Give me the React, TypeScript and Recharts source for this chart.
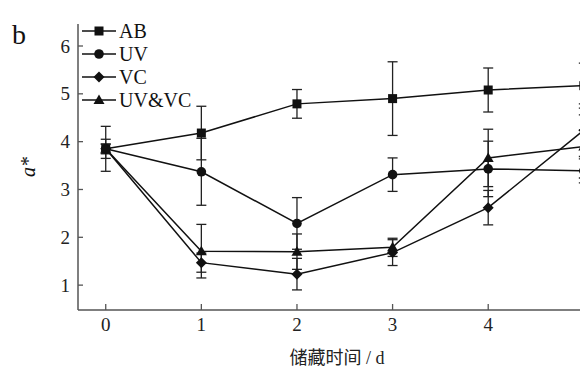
import React from 'react';
import {
  LineChart,
  Line,
  XAxis,
  YAxis,
  ErrorBar,
  Customized
} from 'recharts';

// storage days (5 lies just past the right edge of the frame)
const days = [0, 1, 2, 3, 4, 5];

const ab = [3.85, 4.18, 4.79, 4.9, 5.08, 5.17];
const abErr = [0.47, 0.56, 0.3, 0.77, 0.46, 0.47];
const uv = [3.85, 3.37, 2.29, 3.31, 3.43, 3.39];
const uvErr = [0.2, 0.7, 0.54, 0.35, 0.58, 0.25];
const vc = [3.85, 1.47, 1.23, 1.68, 2.62, 4.24];
const vcErr = [0.1, 0.2, 0.33, 0.27, 0.36, 0.55];
const uvvc = [3.85, 1.71, 1.7, 1.79, 3.66, 3.9];
const uvvcErr = [0.1, 0.56, 0.37, 0.19, 0.6, 0.66];

const xTicks = [0, 1, 2, 3, 4];
const yTicks = [1, 2, 3, 4, 5, 6];

const seriesNames = ['AB', 'UV', 'VC', 'UV&VC'];

const data = days.map((d, i) => ({
  day: d,
  ab: ab[i],
  abErr: abErr[i],
  uv: uv[i],
  uvErr: uvErr[i],
  vc: vc[i],
  vcErr: vcErr[i],
  uvvc: uvvc[i],
  uvvcErr: uvvcErr[i]
}));

const SERIF = "'Liberation Serif', 'Times New Roman', serif";
const INK = '#111';
const AXIS = '#555';

const Marker = ({ kind, cx, cy }: { kind: string; cx: number; cy: number }) => {
  if (cx == null || cy == null) return null;
  if (kind === 'square') return <rect x={cx - 4.5} y={cy - 4.5} width={9} height={9} fill={INK} />;
  if (kind === 'circle') return <circle cx={cx} cy={cy} r={4.8} fill={INK} />;
  if (kind === 'diamond')
    return <polygon points={`${cx},${cy - 5.5} ${cx + 5.5},${cy} ${cx},${cy + 5.5} ${cx - 5.5},${cy}`} fill={INK} />;
  return <polygon points={`${cx},${cy - 5.5} ${cx + 5.5},${cy + 4} ${cx - 5.5},${cy + 4}`} fill={INK} />;
};

const markerKinds = ['square', 'circle', 'diamond', 'triangle'];

const dotFor = (kind: string) => (p: any) => <Marker key={`${kind}-${p.index}`} kind={kind} cx={p.cx} cy={p.cy} />;

const YTick = (props: any) => {
  const { x, y, payload } = props;
  return (
    <g>
      <line x1={x + 8} x2={x + 13} y1={y} y2={y} stroke={AXIS} strokeWidth={1.3} />
      <text x={x} y={y} dy="0.35em" textAnchor="end" style={{ fontFamily: SERIF, fontSize: 19 }} fill="#222">
        {payload.value}
      </text>
    </g>
  );
};

const XTick = (props: any) => {
  const { x, y, payload } = props;
  return (
    <g>
      <line x1={x} x2={x} y1={y - 8} y2={y - 14} stroke={AXIS} strokeWidth={1.3} />
      <text x={x} y={y} dy="0.71em" textAnchor="middle" style={{ fontFamily: SERIF, fontSize: 19 }} fill="#222">
        {payload.value}
      </text>
    </g>
  );
};

// legend, panel letter and axis titles drawn straight into the svg
const Labels = () => (
  <g>
    {seriesNames.map((name, i) => {
      const cy = 31 + i * 23;
      return (
        <g key={name}>
          <line x1={82} x2={116} y1={cy} y2={cy} stroke={INK} strokeWidth={1.5} />
          <Marker kind={markerKinds[i]} cx={99} cy={cy} />
          <text x={119} y={cy} dy="0.35em" style={{ fontFamily: SERIF, fontSize: 20 }} fill="#111">
            {name}
          </text>
        </g>
      );
    })}
    <text x={12} y={44} style={{ fontFamily: SERIF, fontSize: 28 }} fill="#111">b</text>
    <text
      x={35}
      y={167}
      transform="rotate(-90, 35, 167)"
      textAnchor="middle"
      style={{ fontFamily: SERIF, fontSize: 20, fontStyle: 'italic' }}
      fill="#111"
    >
      a*
    </text>
    <text
      x={337}
      y={364}
      textAnchor="middle"
      style={{ fontFamily: "'Liberation Serif', 'Noto Sans CJK SC', serif", fontSize: 18 }}
      fill="#222"
    >
      储藏时间 / d
    </text>
  </g>
);

export default function App() {
  return (
    <div style={{ position: 'absolute', left: 0, top: 0, width: 580, height: 372, background: '#fff' }}>
      <LineChart width={580} height={372} data={data} margin={{ top: 24, right: 0, bottom: 0, left: 0 }}>
        <XAxis
          dataKey="day"
          type="number"
          domain={[-0.29, 4.96]}
          allowDataOverflow
          ticks={xTicks}
          tick={<XTick />}
          tickLine={false}
          tickSize={0}
          tickMargin={8}
          height={62}
          stroke={AXIS}
          strokeWidth={1.5}
        />
        <YAxis
          type="number"
          domain={[0.48, 6.46]}
          allowDataOverflow
          ticks={yTicks}
          tick={<YTick />}
          tickLine={false}
          tickSize={0}
          tickMargin={8}
          width={78}
          stroke={AXIS}
          strokeWidth={1.5}
        />
        <Line dataKey="ab" name="AB" stroke={INK} strokeWidth={1.5} dot={dotFor('square')} activeDot={false} isAnimationActive={false}>
          <ErrorBar dataKey="abErr" width={5} stroke="#222" strokeWidth={1.3} direction="y" />
        </Line>
        <Line dataKey="uv" name="UV" stroke={INK} strokeWidth={1.5} dot={dotFor('circle')} activeDot={false} isAnimationActive={false}>
          <ErrorBar dataKey="uvErr" width={5} stroke="#222" strokeWidth={1.3} direction="y" />
        </Line>
        <Line dataKey="vc" name="VC" stroke={INK} strokeWidth={1.5} dot={dotFor('diamond')} activeDot={false} isAnimationActive={false}>
          <ErrorBar dataKey="vcErr" width={5} stroke="#222" strokeWidth={1.3} direction="y" />
        </Line>
        <Line dataKey="uvvc" name="UV&VC" stroke={INK} strokeWidth={1.5} dot={dotFor('triangle')} activeDot={false} isAnimationActive={false}>
          <ErrorBar dataKey="uvvcErr" width={5} stroke="#222" strokeWidth={1.3} direction="y" />
        </Line>
        <Customized component={Labels} />
      </LineChart>
    </div>
  );
}
